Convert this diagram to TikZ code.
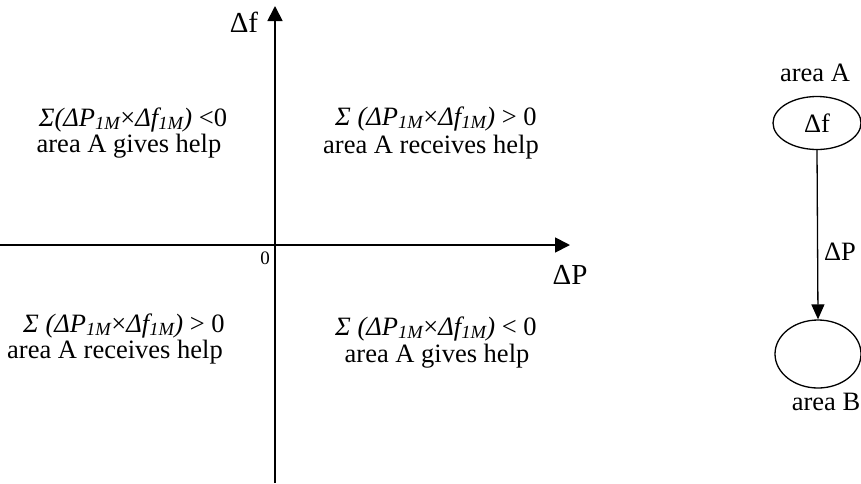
\documentclass[tikz,border=0pt]{standalone}
\usepackage{fontspec}
\setmainfont{Liberation Serif}
\usetikzlibrary{arrows.meta,shapes.geometric}
\newcommand{\mysub}[1]{\textsubscript{#1}}
\begin{document}
\begin{tikzpicture}[x=1pt,y=-1pt,
  txt/.style={anchor=base,inner sep=0pt,font=\fontsize{26.5}{30}\selectfont},
  axlab/.style={inner sep=0pt,font=\fontsize{29}{32}\selectfont},
  axis/.style={line width=1.8pt,-{Triangle[length=15pt,width=15pt]}},
  area/.style={draw,ellipse,line width=1.3pt,inner sep=0pt,font=\fontsize{26.5}{30}\selectfont},
  link/.style={line width=1.3pt,-{Triangle[length=15pt,width=13pt]}}]
\useasboundingbox (0,0) rectangle (861,483);
% axes
\coordinate (xl) at (0,245);
\coordinate (xr) at (570,245);
\coordinate (yb) at (275,483);
\coordinate (yt) at (275,6);
\draw[axis] (xl) -- (xr);
\draw[axis] (yb) -- (yt);
\node[axlab] (dflab) at (244,22) {Δf};
\node[axlab] (dplab) at (570,275) {ΔP};
\node[inner sep=0pt,font=\fontsize{19}{20}\selectfont] (zero) at (265,258) {0};
% quadrant texts
\node[txt] (q1a) at (133,126) {{\itshape Σ(ΔP\mysub{1M}}×{\itshape Δf\mysub{1M})} <0};
\node[txt] (q1b) at (129,152) {area A gives help};
\node[txt] (q2a) at (436,125) {{\itshape Σ (ΔP\mysub{1M}}×{\itshape Δf\mysub{1M})} > 0};
\node[txt] (q2b) at (431,153) {area A receives help};
\node[txt] (q3a) at (124,332) {{\itshape Σ (ΔP\mysub{1M}}×{\itshape Δf\mysub{1M})} > 0};
\node[txt] (q3b) at (115,358) {area A receives help};
\node[txt] (q4a) at (436,335) {{\itshape Σ (ΔP\mysub{1M}}×{\itshape Δf\mysub{1M})} < 0};
\node[txt] (q4b) at (437,362) {area A gives help};
% right diagram
\node[area,minimum width=88pt,minimum height=53pt] (A) at (817,123) {Δf};
\node[area,minimum width=86pt,minimum height=68pt] (B) at (818,354) {};
\draw[link] (A.south) -- (B.north);
\node[txt] (alab) at (815,81) {area A};
\node[txt] (blab) at (826,410) {area B};
\node[txt] (plab) at (840,260) {ΔP};
\end{tikzpicture}
\end{document}
